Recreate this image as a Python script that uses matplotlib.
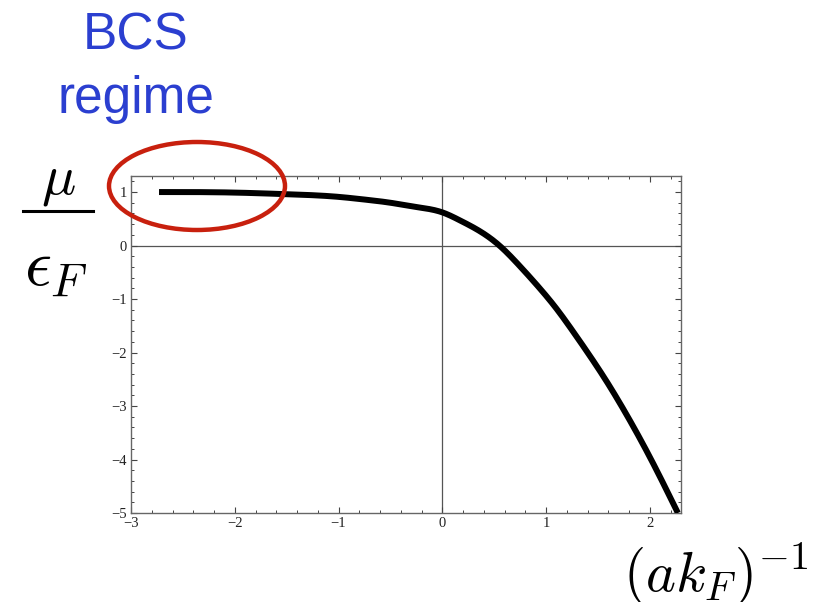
import matplotlib
matplotlib.use("Agg")
import matplotlib.pyplot as plt
from matplotlib.patches import Ellipse
from matplotlib.ticker import MultipleLocator
import numpy as np

# Chemical potential across the BCS-BEC crossover
inv_akf = [-2.73, -2.5, -2.0, -1.5, -1.0, -0.75, -0.5, -0.25, 0.0, 0.17,
           0.36, 0.55, 0.74, 0.93, 1.10, 1.25, 1.40, 1.58, 1.76, 2.02, 2.27]
mu_over_ef = [1.0, 1.0, 0.99, 0.96, 0.91, 0.86, 0.80, 0.72, 0.62, 0.47,
              0.27, 0.0, -0.37, -0.78, -1.18, -1.58, -2.0, -2.53, -3.11,
              -4.03, -5.0]

x_ticks = [-3, -2, -1, 0, 1, 2]
y_ticks = [-5, -4, -3, -2, -1, 0, 1]

W, H = 835, 602
plt.rcParams["mathtext.fontset"] = "cm"
fig = plt.figure(figsize=(W / 100, H / 100), dpi=100)
ax = fig.add_axes([131 / W, 1 - 513 / H, 550 / W, 337 / H])


def natural_spline(x, y, xn):
    """Natural cubic spline through (x, y), evaluated at xn."""
    n = len(x)
    h = np.diff(x)
    A = np.zeros((n, n))
    r = np.zeros(n)
    A[0, 0] = A[-1, -1] = 1.0
    for i in range(1, n - 1):
        A[i, i - 1] = h[i - 1]
        A[i, i] = 2 * (h[i - 1] + h[i])
        A[i, i + 1] = h[i]
        r[i] = 6 * ((y[i + 1] - y[i]) / h[i] - (y[i] - y[i - 1]) / h[i - 1])
    M = np.linalg.solve(A, r)
    idx = np.clip(np.searchsorted(x, xn) - 1, 0, n - 2)
    hi = h[idx]
    a = x[idx + 1] - xn
    b = xn - x[idx]
    return (M[idx] * a**3 / (6 * hi) + M[idx + 1] * b**3 / (6 * hi)
            + (y[idx] / hi - M[idx] * hi / 6) * a
            + (y[idx + 1] / hi - M[idx + 1] * hi / 6) * b)


xs = np.array(inv_akf)
ys = np.array(mu_over_ef)
xf = np.linspace(xs[0], xs[-1], 600)
yf = natural_spline(xs, ys, xf)

ax.axhline(0, color="#555555", lw=0.9, zorder=1)
ax.axvline(0, color="#555555", lw=0.9, zorder=1)
ax.plot(xf, yf, color="black", lw=4.3, solid_capstyle="butt", zorder=3)

ax.set_xlim(-3, 2.3)
ax.set_ylim(-5, 1.3)
ax.set_xticks(x_ticks)
ax.set_yticks(y_ticks)
ax.set_xticklabels([str(v).replace("-", "\u2212") for v in x_ticks])
ax.set_yticklabels([str(v).replace("-", "\u2212") for v in y_ticks])
ax.xaxis.set_minor_locator(MultipleLocator(0.2))
ax.yaxis.set_minor_locator(MultipleLocator(0.2))
ax.tick_params(which="both", direction="in", top=True, right=True,
               colors="#444444", labelcolor="#222222")
ax.tick_params(axis="x", pad=3)
ax.tick_params(axis="y", pad=3)
ax.tick_params(which="major", length=4.5, width=0.8)
ax.tick_params(which="minor", length=2.3, width=0.7)
for lab in ax.get_xticklabels() + ax.get_yticklabels():
    lab.set_family("Liberation Serif")
    lab.set_fontsize(10.5)
for s in ax.spines.values():
    s.set_color("#666666")
    s.set_linewidth(1.0)

# annotation: BCS regime
fig.text(136 / W, 1 - 36 / H, "BCS", ha="center", va="center",
         fontsize=37, color="#2B3FD0", family="Liberation Sans")
fig.text(136 / W, 1 - 99 / H, "regime", ha="center", va="center",
         fontsize=37, color="#2B3FD0", family="Liberation Sans")

ell = Ellipse((197 / W, 1 - 186 / H), 176 / W, 88 / H,
              transform=fig.transFigure, fill=False,
              edgecolor="#C8200E", lw=3.2, clip_on=False, zorder=10)
fig.patches.append(ell)

# axis labels
fig.text(58 / W, 1 - 180 / H, r"$\mu$", ha="center", va="center", fontsize=41)
fig.add_artist(plt.Line2D([23 / W, 93 / W], [1 - 211 / H, 1 - 211 / H],
                          transform=fig.transFigure, color="black", lw=2.2))
fig.text(56 / W, 1 - 266 / H, r"$\epsilon_F$", ha="center", va="center", fontsize=48)
fig.text(716 / W, 1 - 574 / H, r"$(ak_F)^{-1}$", ha="center", va="center", fontsize=41)

fig.savefig("out.png", dpi=100, facecolor="white")
